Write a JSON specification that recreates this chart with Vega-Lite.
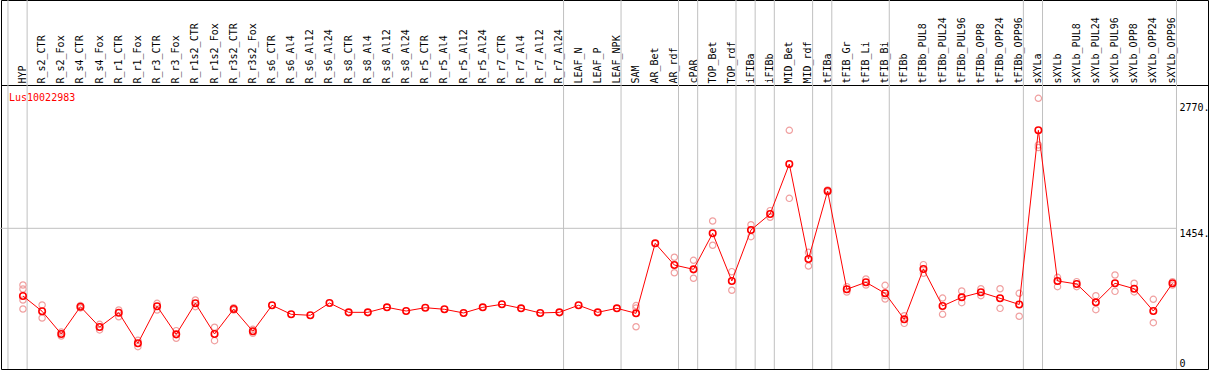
{
  "$schema": "https://vega.github.io/schema/vega-lite/v6.json",
  "width": 1207,
  "height": 369,
  "padding": {"left": 1, "top": 0, "right": 1, "bottom": 1},
  "autosize": {"type": "none"},
  "background": "white",
  "config": {
    "view": {"stroke": "black", "strokeWidth": 1},
    "font": "DejaVu Sans Mono"
  },
  "title": {
    "text": "Lus10022983",
    "anchor": "start",
    "frame": "group",
    "orient": "top",
    "offset": -111,
    "baseline": "alphabetic",
    "dx": 8,
    "color": "#ff0000",
    "font": "DejaVu Sans Mono",
    "fontSize": 10,
    "fontWeight": "normal"
  },
  "datasets": {
    "names": [
      {"name": "HYP"}, {"name": "R_s2_CTR"}, {"name": "LEAF_N"}, {"name": "SAM"}, {"name": "cPAR"},
      {"name": "TOP_Bet"}, {"name": "iFIBa"}, {"name": "iFIBb"}, {"name": "MID_Bet"}, {"name": "tFIBa"},
      {"name": "tFIB_Gr"}, {"name": "tFIBb"}, {"name": "sXYLa"}, {"name": "sXYLb"}
    ],
    "means": [
      {"name": "HYP", "value": 697},
      {"name": "R_s2_CTR", "value": 526},
      {"name": "R_s2_Fox", "value": 272},
      {"name": "R_s4_CTR", "value": 577},
      {"name": "R_s4_Fox", "value": 350},
      {"name": "R_r1_CTR", "value": 510},
      {"name": "R_r1_Fox", "value": 168},
      {"name": "R_r3_CTR", "value": 582},
      {"name": "R_r3_Fox", "value": 268},
      {"name": "R_r1s2_CTR", "value": 615},
      {"name": "R_r1s2_Fox", "value": 272},
      {"name": "R_r3s2_CTR", "value": 551},
      {"name": "R_r3s2_Fox", "value": 302},
      {"name": "R_s6_CTR", "value": 593},
      {"name": "R_s6_Al4", "value": 492},
      {"name": "R_s6_Al12", "value": 481},
      {"name": "R_s6_Al24", "value": 618},
      {"name": "R_s8_CTR", "value": 514},
      {"name": "R_s8_Al4", "value": 514},
      {"name": "R_s8_Al12", "value": 570},
      {"name": "R_s8_Al24", "value": 529},
      {"name": "R_r5_CTR", "value": 566},
      {"name": "R_r5_Al4", "value": 548},
      {"name": "R_r5_Al12", "value": 507},
      {"name": "R_r5_Al24", "value": 570},
      {"name": "R_r7_CTR", "value": 604},
      {"name": "R_r7_Al4", "value": 559},
      {"name": "R_r7_Al12", "value": 507},
      {"name": "R_r7_Al24", "value": 514},
      {"name": "LEAF_N", "value": 593},
      {"name": "LEAF_P", "value": 514},
      {"name": "LEAF_NPK", "value": 559},
      {"name": "SAM", "value": 503},
      {"name": "AR_Bet", "value": 1286},
      {"name": "AR_rdf", "value": 1043},
      {"name": "cPAR", "value": 995},
      {"name": "TOP_Bet", "value": 1398},
      {"name": "TOP_rdf", "value": 865},
      {"name": "iFIBa", "value": 1435},
      {"name": "iFIBb", "value": 1614},
      {"name": "MID_Bet", "value": 2173},
      {"name": "MID_rdf", "value": 1111},
      {"name": "tFIBa", "value": 1871},
      {"name": "tFIB_Gr", "value": 772},
      {"name": "tFIB_Li", "value": 850},
      {"name": "tFIB_Bi", "value": 727},
      {"name": "tFIBb", "value": 436},
      {"name": "tFIBb_PUL8", "value": 999},
      {"name": "tFIBb_PUL24", "value": 585},
      {"name": "tFIBb_PUL96", "value": 682},
      {"name": "tFIBb_OPP8", "value": 738},
      {"name": "tFIBb_OPP24", "value": 671},
      {"name": "tFIBb_OPP96", "value": 602},
      {"name": "sXYLa", "value": 2550},
      {"name": "sXYLb", "value": 865},
      {"name": "sXYLb_PUL8", "value": 831},
      {"name": "sXYLb_PUL24", "value": 626},
      {"name": "sXYLb_PUL96", "value": 839},
      {"name": "sXYLb_OPP8", "value": 778},
      {"name": "sXYLb_OPP24", "value": 529},
      {"name": "sXYLb_OPP96", "value": 839}
    ],
    "reps": [
      {"name": "HYP", "value": 820}, {"name": "HYP", "value": 775}, {"name": "HYP", "value": 652}, {"name": "HYP", "value": 551},
      {"name": "R_s2_CTR", "value": 596}, {"name": "R_s2_CTR", "value": 451},
      {"name": "R_s2_Fox", "value": 294}, {"name": "R_s2_Fox", "value": 249},
      {"name": "R_s4_CTR", "value": 590}, {"name": "R_s4_CTR", "value": 563},
      {"name": "R_s4_Fox", "value": 380}, {"name": "R_s4_Fox", "value": 317},
      {"name": "R_r1_CTR", "value": 540}, {"name": "R_r1_CTR", "value": 465},
      {"name": "R_r1_Fox", "value": 201}, {"name": "R_r1_Fox", "value": 130},
      {"name": "R_r3_CTR", "value": 615}, {"name": "R_r3_CTR", "value": 540},
      {"name": "R_r3_Fox", "value": 309}, {"name": "R_r3_Fox", "value": 224},
      {"name": "R_r1s2_CTR", "value": 652}, {"name": "R_r1s2_CTR", "value": 577},
      {"name": "R_r1s2_Fox", "value": 347}, {"name": "R_r1s2_Fox", "value": 197},
      {"name": "R_r3s2_CTR", "value": 566}, {"name": "R_r3s2_CTR", "value": 540},
      {"name": "R_r3s2_Fox", "value": 324}, {"name": "R_r3s2_Fox", "value": 280},
      {"name": "SAM", "value": 590}, {"name": "SAM", "value": 563}, {"name": "SAM", "value": 353},
      {"name": "AR_rdf", "value": 1130}, {"name": "AR_rdf", "value": 957},
      {"name": "cPAR", "value": 1096}, {"name": "cPAR", "value": 895},
      {"name": "TOP_Bet", "value": 1536}, {"name": "TOP_Bet", "value": 1264},
      {"name": "TOP_rdf", "value": 969}, {"name": "TOP_rdf", "value": 761},
      {"name": "iFIBa", "value": 1494}, {"name": "iFIBa", "value": 1360},
      {"name": "iFIBb", "value": 1651}, {"name": "iFIBb", "value": 1577},
      {"name": "MID_Bet", "value": 2550}, {"name": "MID_Bet", "value": 1789},
      {"name": "MID_rdf", "value": 1185}, {"name": "MID_rdf", "value": 1032},
      {"name": "tFIBa", "value": 1882}, {"name": "tFIBa", "value": 1860},
      {"name": "tFIB_Gr", "value": 801}, {"name": "tFIB_Gr", "value": 741},
      {"name": "tFIB_Li", "value": 887}, {"name": "tFIB_Li", "value": 820},
      {"name": "tFIB_Bi", "value": 816}, {"name": "tFIB_Bi", "value": 700}, {"name": "tFIB_Bi", "value": 663},
      {"name": "tFIBb", "value": 476}, {"name": "tFIBb", "value": 391},
      {"name": "tFIBb_PUL8", "value": 1047}, {"name": "tFIBb_PUL8", "value": 951},
      {"name": "tFIBb_PUL24", "value": 674}, {"name": "tFIBb_PUL24", "value": 492},
      {"name": "tFIBb_PUL96", "value": 753}, {"name": "tFIBb_PUL96", "value": 622},
      {"name": "tFIBb_OPP8", "value": 778}, {"name": "tFIBb_OPP8", "value": 700},
      {"name": "tFIBb_OPP24", "value": 778}, {"name": "tFIBb_OPP24", "value": 559},
      {"name": "tFIBb_OPP96", "value": 727}, {"name": "tFIBb_OPP96", "value": 470},
      {"name": "sXYLa", "value": 2908}, {"name": "sXYLa", "value": 2386}, {"name": "sXYLa", "value": 2358},
      {"name": "sXYLb", "value": 906}, {"name": "sXYLb", "value": 801},
      {"name": "sXYLb_PUL8", "value": 857}, {"name": "sXYLb_PUL8", "value": 801},
      {"name": "sXYLb_PUL24", "value": 700}, {"name": "sXYLb_PUL24", "value": 544},
      {"name": "sXYLb_PUL96", "value": 932}, {"name": "sXYLb_PUL96", "value": 749},
      {"name": "sXYLb_OPP8", "value": 839}, {"name": "sXYLb_OPP8", "value": 742},
      {"name": "sXYLb_OPP24", "value": 660}, {"name": "sXYLb_OPP24", "value": 398},
      {"name": "sXYLb_OPP96", "value": 857}, {"name": "sXYLb_OPP96", "value": 820}
    ]
  },
  "encoding": {
    "x": {
      "field": "name",
      "type": "ordinal",
      "sort": ["HYP","R_s2_CTR","R_s2_Fox","R_s4_CTR","R_s4_Fox","R_r1_CTR","R_r1_Fox","R_r3_CTR","R_r3_Fox","R_r1s2_CTR","R_r1s2_Fox","R_r3s2_CTR","R_r3s2_Fox","R_s6_CTR","R_s6_Al4","R_s6_Al12","R_s6_Al24","R_s8_CTR","R_s8_Al4","R_s8_Al12","R_s8_Al24","R_r5_CTR","R_r5_Al4","R_r5_Al12","R_r5_Al24","R_r7_CTR","R_r7_Al4","R_r7_Al12","R_r7_Al24","LEAF_N","LEAF_P","LEAF_NPK","SAM","AR_Bet","AR_rdf","cPAR","TOP_Bet","TOP_rdf","iFIBa","iFIBb","MID_Bet","MID_rdf","tFIBa","tFIB_Gr","tFIB_Li","tFIB_Bi","tFIBb","tFIBb_PUL8","tFIBb_PUL24","tFIBb_PUL96","tFIBb_OPP8","tFIBb_OPP24","tFIBb_OPP96","sXYLa","sXYLb","sXYLb_PUL8","sXYLb_PUL24","sXYLb_PUL96","sXYLb_OPP8","sXYLb_OPP24","sXYLb_OPP96"],
      "scale": {
        "type": "band",
        "domain": ["HYP","R_s2_CTR","R_s2_Fox","R_s4_CTR","R_s4_Fox","R_r1_CTR","R_r1_Fox","R_r3_CTR","R_r3_Fox","R_r1s2_CTR","R_r1s2_Fox","R_r3s2_CTR","R_r3s2_Fox","R_s6_CTR","R_s6_Al4","R_s6_Al12","R_s6_Al24","R_s8_CTR","R_s8_Al4","R_s8_Al12","R_s8_Al24","R_r5_CTR","R_r5_Al4","R_r5_Al12","R_r5_Al24","R_r7_CTR","R_r7_Al4","R_r7_Al12","R_r7_Al24","LEAF_N","LEAF_P","LEAF_NPK","SAM","AR_Bet","AR_rdf","cPAR","TOP_Bet","TOP_rdf","iFIBa","iFIBb","MID_Bet","MID_rdf","tFIBa","tFIB_Gr","tFIB_Li","tFIB_Bi","tFIBb","tFIBb_PUL8","tFIBb_PUL24","tFIBb_PUL96","tFIBb_OPP8","tFIBb_OPP24","tFIBb_OPP96","sXYLa","sXYLb","sXYLb_PUL8","sXYLb_PUL24","sXYLb_PUL96","sXYLb_OPP8","sXYLb_OPP24","sXYLb_OPP96"],
        "paddingInner": 0,
        "paddingOuter": 1.263,
        "align": 0.323
      },
      "axis": {
        "orient": "top",
        "offset": -85,
        "title": null,
        "labelAngle": -90,
        "labelAlign": "left",
        "labelBaseline": "middle",
        "labelPadding": 2,
        "ticks": false,
        "domain": true,
        "domainColor": "black",
        "domainWidth": 1,
        "grid": false,
        "labelFont": "DejaVu Sans Mono",
        "labelFontSize": 10,
        "labelColor": "black",
        "labelOverlap": false,
        "labelLimit": 0
      }
    },
    "y": {
      "field": "value",
      "type": "quantitative",
      "scale": {"domain": [-119.7, 4007.4], "nice": false, "zero": false},
      "axis": {
        "orient": "right",
        "offset": -29,
        "title": null,
        "values": [0, 1454, 2770],
        "labelExpr": "datum.value == 0 ? '0' : datum.value + '.'",
        "ticks": false,
        "domain": false,
        "grid": false,
        "labelPadding": 0,
        "labelAlign": "left",
        "labelBaseline": {"condition": {"test": "datum.value > 2000", "value": "alphabetic"}, "value": "top"},
        "labelFlush": false,
        "labelFont": "DejaVu Sans Mono",
        "labelFontSize": 10,
        "labelColor": "black"
      }
    }
  },
  "layer": [
    {
      "data": {"name": "names"},
      "mark": {"type": "rule", "color": "#c0c0c0", "strokeWidth": 1, "xOffset": -15},
      "encoding": {"y": null}
    },
    {
      "data": {"values": [{"name": "sXYLb_OPP96"}]},
      "mark": {"type": "rule", "color": "#c0c0c0", "strokeWidth": 1, "xOffset": 4},
      "encoding": {"y": null}
    },
    {
      "data": {"values": [{"gridValue": 1454}]},
      "mark": {"type": "rule", "color": "#c0c0c0", "strokeWidth": 1, "xOffset": -25, "x2Offset": 4},
      "encoding": {
        "x": {"datum": "HYP", "type": "ordinal"},
        "x2": {"datum": "sXYLb_OPP96"},
        "y": {"field": "gridValue", "type": "quantitative"}
      }
    },
    {
      "data": {"name": "reps"},
      "mark": {"type": "point", "shape": "circle", "filled": false, "color": "#f0a0a0", "size": 40, "strokeWidth": 1.2, "opacity": 1},
      "encoding": {}
    },
    {
      "data": {"name": "means"},
      "mark": {"type": "line", "color": "#ff0000", "strokeWidth": 1},
      "encoding": {}
    },
    {
      "data": {"name": "means"},
      "mark": {"type": "point", "shape": "circle", "filled": false, "color": "#ff0000", "size": 42, "strokeWidth": 1.6, "opacity": 1},
      "encoding": {}
    }
  ]
}
